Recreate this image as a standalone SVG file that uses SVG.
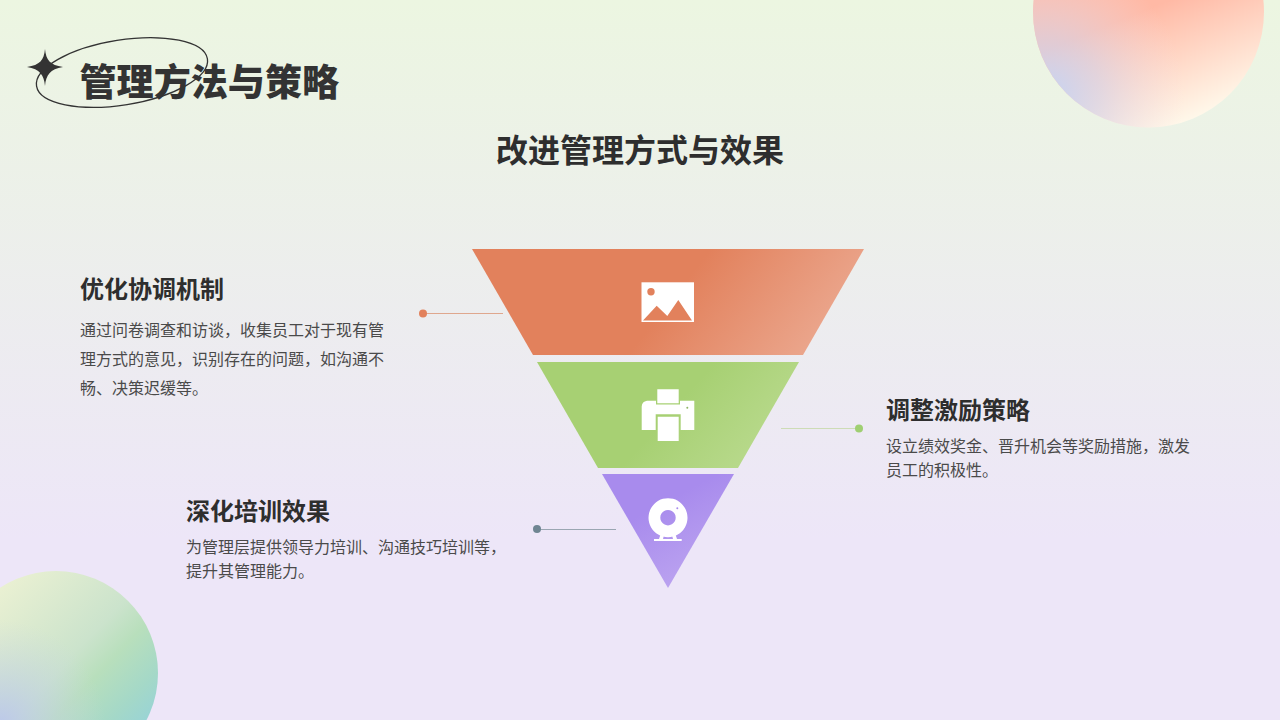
<svg xmlns="http://www.w3.org/2000/svg" width="1280" height="720" viewBox="0 0 1280 720">
<style>
text{font-family:"Noto Sans CJK SC","Noto Sans",sans-serif;fill:#2e2e2e}
.h{font-size:24px;font-weight:700}
.b{font-size:16px;fill:#4a4a4a}
.ic{fill:#fff}
</style>
<defs>
<linearGradient id="bg" x1="0" y1="0" x2="0" y2="1"><stop offset="0" stop-color="#ecf6e1"/><stop offset="0.75" stop-color="#ede6f8"/><stop offset="1" stop-color="#ede6f8"/></linearGradient>
<linearGradient id="tr" gradientUnits="userSpaceOnUse" x1="1170" y1="0" x2="1215" y2="110"><stop offset="0" stop-color="#ffb9a5"/><stop offset="1" stop-color="#fff8ea"/></linearGradient>
<radialGradient id="tr2" gradientUnits="userSpaceOnUse" cx="1045" cy="95" r="140"><stop offset="0" stop-color="#c4d3f3"/><stop offset="0.4" stop-color="#d0d6f0" stop-opacity="0.6"/><stop offset="1" stop-color="#f4e0e6" stop-opacity="0"/></radialGradient>
<linearGradient id="bl" gradientUnits="userSpaceOnUse" x1="10" y1="580" x2="150" y2="715"><stop offset="0" stop-color="#e9f0d2"/><stop offset="0.5" stop-color="#cbe3cc"/><stop offset="0.66" stop-color="#b8dfbc"/><stop offset="0.875" stop-color="#a4d8c8"/><stop offset="1" stop-color="#9ad4d4"/></linearGradient>
<radialGradient id="bl2" gradientUnits="userSpaceOnUse" cx="0" cy="725" r="105"><stop offset="0" stop-color="#bcc8ea"/><stop offset="1" stop-color="#c8d8e0" stop-opacity="0"/></radialGradient>
<linearGradient id="o" gradientUnits="userSpaceOnUse" x1="710" y1="250" x2="825" y2="340"><stop offset="0" stop-color="#e2815c"/><stop offset="1" stop-color="#eba78e"/></linearGradient>
<linearGradient id="g" gradientUnits="userSpaceOnUse" x1="690" y1="390" x2="780" y2="470"><stop offset="0" stop-color="#a7d073"/><stop offset="1" stop-color="#bddc93"/></linearGradient>
<linearGradient id="p" gradientUnits="userSpaceOnUse" x1="650" y1="510" x2="690" y2="585"><stop offset="0" stop-color="#a88bed"/><stop offset="1" stop-color="#bca4f0"/></linearGradient>
</defs>
<rect id="background" width="1280" height="720" fill="url(#bg)"/>
<g id="decor">
<circle cx="1148.500" cy="12" r="115.500" fill="url(#tr)"/>
<circle cx="1148.500" cy="12" r="115.500" fill="url(#tr2)"/>
<circle cx="56" cy="673" r="102" fill="url(#bl)"/>
<circle cx="56" cy="673" r="102" fill="url(#bl2)"/>
</g>
<g id="title">
<path d="M45 49C46 60 50 65 63 67C50 69 46 75 45 86C44 75 40 69 27 67C40 65 44 60 45 49Z" fill="#333"/>
<ellipse cx="122" cy="72.500" rx="86.500" ry="32.500" transform="rotate(-9 122 72.500)" fill="none" stroke="#333" stroke-width="1.300"/>
<text x="79.500" y="96" font-size="37.100" font-weight="900" style="fill:#333">管理方法与策略</text>
<text x="640" y="162" font-size="32" font-weight="700" text-anchor="middle">改进管理方式与效果</text>
</g>
<g id="connectors" fill="none" stroke-width="1.200">
<path d="M423 313.500H503" stroke="#dfa78e"/>
<path d="M781 428.500H859" stroke="#cddcb6"/>
<path d="M537 529.500H616" stroke="#9aa6b2"/>
<circle cx="423" cy="313.500" r="4" fill="#e2815c" stroke="none"/>
<circle cx="859" cy="428.500" r="4" fill="#9fcf72" stroke="none"/>
<circle cx="537" cy="529" r="4" fill="#6f8592" stroke="none"/>
</g>
<g id="node-top">
<polygon points="472,249 864,249 803,355 533,355" fill="url(#o)"/>
<rect class="ic" x="641.500" y="282.300" width="52.500" height="39.700"/>
<path d="M643 320.500L656.700 305.700 667.300 316 678.300 300 692 320.500Z" fill="#e2815c"/>
<circle cx="651" cy="291.700" r="3.700" fill="#e2815c"/>
</g>
<g id="node-mid">
<polygon points="537,362 799,362 738,468 598,468" fill="url(#g)"/>
<path class="ic" d="M657.300 389.300H678.700V403.300H657.300ZM647 400.700H656V404.500H680V400.700H694.300V430H680.700V414.300H655.700V430H641.700V406.500Q642 401.500 647 400.700ZM657.700 416.700H678.700V441H657.700Z"/>
<circle cx="687.300" cy="407.700" r="1" fill="#8fb565"/>
</g>
<g id="node-bot">
<polygon points="602,474 734,474 668,588" fill="url(#p)"/>
<path class="ic" fill-rule="evenodd" d="M668 498.200a19.500 19.500 0 1 0 .01 0ZM668 510a7.700 7.700 0 1 1 -.01 0Z"/>
<circle cx="677.300" cy="508.300" r="1" fill="#a88bed"/>
<path class="ic" d="M661 533H664.500L663 539H673L671.500 533H675L677 539H681.700V541H654V539H659Z"/>
</g>
<g id="label-1">
<text x="80" y="298" class="h">优化协调机制</text>
<text x="80" y="336" class="b">通过问卷调查和访谈，收集员工对于现有管</text>
<text x="80" y="365" class="b">理方式的意见，识别存在的问题，如沟通不</text>
<text x="80" y="394" class="b">畅、决策迟缓等。</text>
</g>
<g id="label-2">
<text x="886" y="419" class="h">调整激励策略</text>
<text x="886" y="452" class="b">设立绩效奖金、晋升机会等奖励措施，激发</text>
<text x="886" y="476" class="b">员工的积极性。</text>
</g>
<g id="label-3">
<text x="186" y="520" class="h">深化培训效果</text>
<text x="186" y="553" class="b">为管理层提供领导力培训、沟通技巧培训等，</text>
<text x="186" y="577" class="b">提升其管理能力。</text>
</g>
</svg>
